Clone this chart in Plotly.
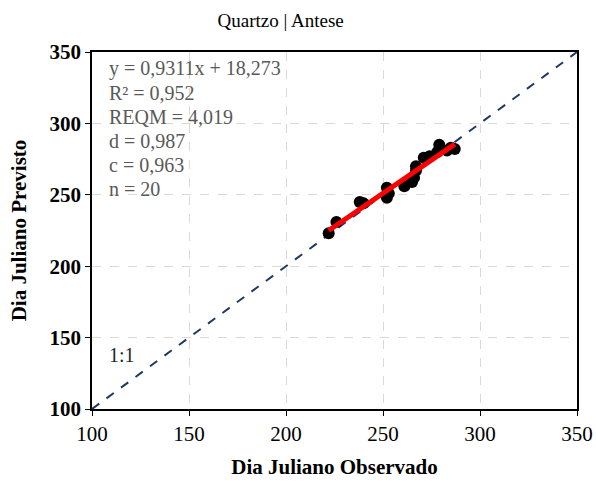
import plotly.graph_objects as go

obs = [222, 226, 238, 240, 252, 252, 253, 261, 262, 265, 266, 267, 267, 271, 274, 278, 279, 283, 285, 287]
prev = [223, 231, 245, 244, 255, 248, 251, 256, 258, 259, 262, 270, 267, 276, 277, 280, 285, 281, 283, 282]
slope, intercept = 0.9311, 18.273
stats = ["y = 0,9311x + 18,273", "R² = 0,952", "REQM = 4,019", "d = 0,987", "c = 0,963", "n = 20"]
ticks = [100, 150, 200, 250, 300, 350]

FONT = "Liberation Serif"
fig = go.Figure()
fig.add_trace(go.Scatter(x=[100, 350], y=[100, 350], mode="lines",
                         line=dict(color="#1f3864", width=2, dash="dash"), showlegend=False))
fig.add_trace(go.Scatter(x=obs, y=prev, mode="markers",
                         marker=dict(color="black", size=12), showlegend=False))
xr = [min(obs), max(obs)]
fig.add_trace(go.Scatter(x=xr, y=[slope * v + intercept for v in xr], mode="lines",
                         line=dict(color="#ff0000", width=5), showlegend=False))

for i, s in enumerate(stats):
    fig.add_annotation(x=0.03, xref="paper", y=338.5 - i * 16.95, yref="y", text=s, showarrow=False,
                       xanchor="left", yanchor="middle", font=dict(family=FONT, size=20, color="#595959"))
fig.add_annotation(x=0.03, xref="paper", y=138, yref="y", text="1:1", showarrow=False,
                   xanchor="left", yanchor="middle", font=dict(family=FONT, size=20, color="#262626"))

axis_common = dict(range=[100, 350], tickvals=ticks, showgrid=True, gridcolor="#d9d9d9",
                   griddash="dash", gridwidth=1, showline=True, linecolor="black", linewidth=1.5,
                   mirror=True, ticks="outside", ticklen=5, tickcolor="black", zeroline=False,
                   automargin=False)
fig.update_xaxes(**axis_common, tickfont=dict(family=FONT, size=21, color="black"),
                 title=dict(text="<b>Dia Juliano Observado</b>", standoff=14,
                            font=dict(family=FONT, size=21, color="black")))
fig.update_yaxes(**axis_common, tickfont=dict(family=FONT, size=21, color="black", weight="bold"),
                 title=dict(text="<b>Dia Juliano Previsto</b>", standoff=17,
                            font=dict(family=FONT, size=21, color="black")))
fig.update_layout(width=596, height=482, margin=dict(l=92, r=19, t=52, b=73),
                  plot_bgcolor="white", paper_bgcolor="white",
                  title=dict(text="Quartzo | Antese", x=0.471, xanchor="center", y=0.958, yanchor="middle",
                             font=dict(family=FONT, size=19, color="black")))
fig.write_html("out.html")
